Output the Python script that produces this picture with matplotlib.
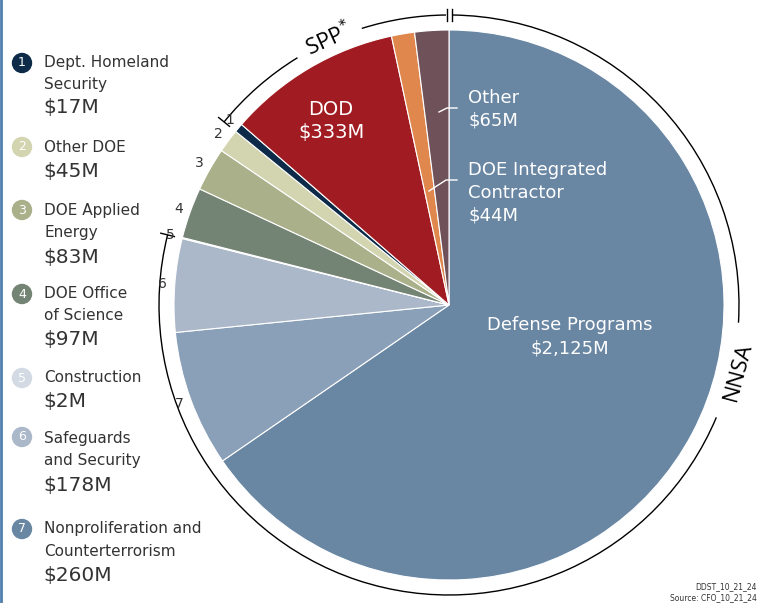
import numpy as np
import matplotlib.pyplot as plt
from matplotlib.patches import Arc, Circle

W, H = 767, 603

# slices clockwise from 12 o'clock
slice_names = ['Defense Programs', 'Nonproliferation and Counterterrorism',
               'Safeguards and Security', 'Construction', 'DOE Office of Science',
               'DOE Applied Energy', 'Other DOE', 'Dept. Homeland Security',
               'DOD', 'DOE Integrated Contractor', 'Other']
slice_values = [2125, 260, 178, 2, 97, 83, 45, 17, 333, 44, 65]
slice_colors = ['#6986a3', '#8a9fb8', '#abb8ca', '#d3dae3', '#748474',
                '#a9b08a', '#d3d5b0', '#0d2b48', '#a11c22', '#e0874e', '#6f5159']
slice_numbers = ['', '7', '6', '5', '4', '3', '2', '1', '', '', '']

legend_nums = ['1', '2', '3', '4', '5', '6', '7']
legend_names = ['Dept. Homeland\nSecurity', 'Other DOE', 'DOE Applied\nEnergy',
                'DOE Office\nof Science', 'Construction', 'Safeguards\nand Security',
                'Nonproliferation and\nCounterterrorism']
legend_values = ['$17M', '$45M', '$83M', '$97M', '$2M', '$178M', '$260M']
legend_colors = ['#0d2b48', '#d3d5b0', '#a9b08a', '#748474', '#d3dae3', '#abb8ca', '#6986a3']

TXT = '#333333'
plt.rcParams['font.family'] = ['DejaVu Sans']

fig = plt.figure(figsize=(W / 100, H / 100), dpi=100)
ax = fig.add_axes([0, 0, 1, 1])

cx, cy, R = 449, H - 305, 275
wedges, _ = ax.pie(slice_values, colors=slice_colors, startangle=90, counterclock=False,
                   center=(cx, cy), radius=R,
                   wedgeprops=dict(edgecolor='white', linewidth=0.8))
ax.set_xlim(0, W)
ax.set_ylim(0, H)
ax.set_aspect('equal')
ax.axis('off')

# slice numbers outside the pie
for w, num in zip(wedges, slice_numbers):
    if not num:
        continue
    mid = np.radians((w.theta1 + w.theta2) / 2)
    ax.text(cx + 287 * np.cos(mid), cy + 287 * np.sin(mid), num,
            fontsize=10, color=TXT, ha='center', va='center')

# bracket arcs
RA = 290
t_spp = wedges[7].theta2      # left edge of DHS slice
t_nnsa = wedges[3].theta2     # left edge of Construction slice
arc_kw = dict(color='black', linewidth=1.0)
ax.add_patch(Arc((cx, cy), 2 * RA, 2 * RA, theta1=90.6, theta2=107.5, **arc_kw))
ax.add_patch(Arc((cx, cy), 2 * RA, 2 * RA, theta1=121.5, theta2=t_spp, **arc_kw))
ax.add_patch(Arc((cx, cy), 2 * RA, 2 * RA, theta1=-3.5, theta2=89.4, **arc_kw))
ax.add_patch(Arc((cx, cy), 2 * RA, 2 * RA, theta1=t_nnsa - 360, theta2=-22.8, **arc_kw))
for t in (t_spp, t_nnsa):
    a = np.radians(t)
    ax.plot([cx + (RA - 7) * np.cos(a), cx + (RA + 7) * np.cos(a)],
            [cy + (RA - 7) * np.sin(a), cy + (RA + 7) * np.sin(a)], color='black', lw=1.0)
for dx in (-2.5, 2.5):
    ax.plot([cx + dx, cx + dx], [cy + RA - 6, cy + RA + 6], color='black', lw=1.0)

a = np.radians(114.5)
ax.text(cx + RA * np.cos(a), cy + RA * np.sin(a) + 2, 'SPP$^{*}$', fontsize=16,
        family='Open Sans', rotation=24.5, ha='center', va='center', color='black')
a = np.radians(-13)
ax.text(cx + 297 * np.cos(a), cy + 297 * np.sin(a), 'NNSA', fontsize=16,
        family='Open Sans', rotation=75, ha='center', va='center', color='black')

# labels inside the pie
ax.text(331, H - 121, 'DOD\n$333M', color='white', fontsize=14, ha='center',
        va='center', linespacing=1.3)
ax.text(468, H - 109, 'Other\n$65M', color='white', fontsize=13, ha='left',
        va='center', linespacing=1.35)
ax.text(468, H - 193, 'DOE Integrated\nContractor\n$44M', color='white', fontsize=13,
        ha='left', va='center', linespacing=1.35)
ax.text(570, H - 337, 'Defense Programs\n$2,125M', color='white', fontsize=13,
        ha='center', va='center', linespacing=1.4)
ax.plot([439, 447, 457], [H - 112, H - 108, H - 108], color='white', lw=1.0)
ax.plot([429, 446, 457], [H - 191, H - 180, H - 180], color='white', lw=1.0)

# legend on the left
circle_y = [63, 147, 210, 294, 378, 437, 529]
name_y = [[62, 84], [147], [211, 233], [294, 316], [377], [439, 461], [528, 551]]
value_y = [108, 171, 257, 340, 402, 486, 575]
for num, name, val, col, yc, ny, vy in zip(legend_nums, legend_names, legend_values,
                                           legend_colors, circle_y, name_y, value_y):
    ax.add_patch(Circle((22, H - yc), 9.5, color=col))
    ax.text(22, H - yc, num, color='white', fontsize=9, ha='center', va='center')
    for line, yy in zip(name.split('\n'), ny):
        ax.text(44, H - yy, line, color=TXT, fontsize=11, ha='left', va='center')
    ax.text(43, H - vy, val, color=TXT, fontsize=14.5, ha='left', va='center')

ax.plot([1, 1], [0, H], color='#4f7fad', lw=2)

ax.text(757, H - 587, 'DDST_10_21_24', fontsize=5.5, color=TXT, ha='right', va='center')
ax.text(757, H - 598, 'Source: CFO_10_21_24', fontsize=5.5, color=TXT, ha='right', va='center')

fig.savefig('out.png', dpi=100)
